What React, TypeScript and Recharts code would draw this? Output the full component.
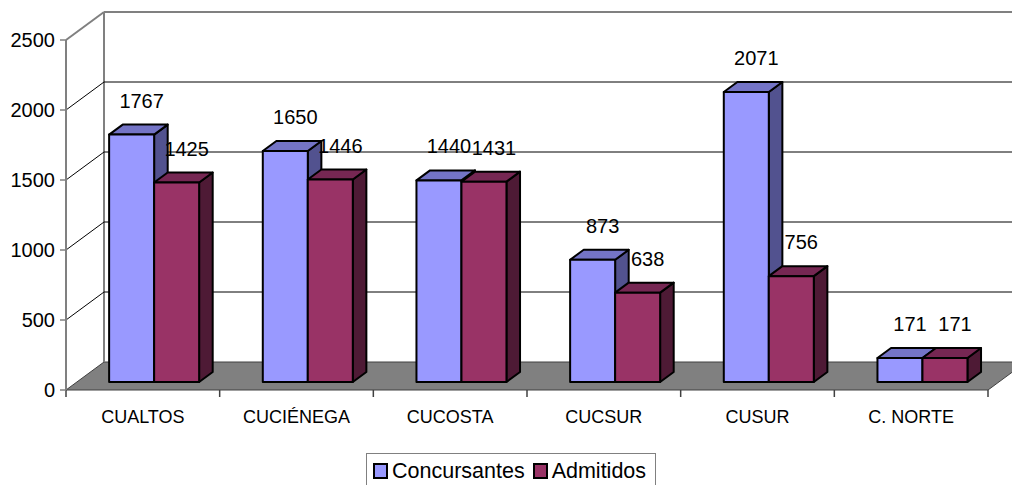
import React from "react";
import {
	BarChart,
	Bar,
	XAxis,
	YAxis,
	ReferenceArea,
	ReferenceLine,
	LabelList,
	Legend,
} from "recharts";

const CATEGORIES = ["CUALTOS", "CUCIÉNEGA", "CUCOSTA", "CUCSUR", "CUSUR", "C. NORTE"];
const CONCURSANTES = [1767, 1650, 1440, 873, 2071, 171];
const ADMITIDOS = [1425, 1446, 1431, 638, 756, 171];
const SERIES_NAMES = ["Concursantes", "Admitidos"];
const Y_TICKS = [0, 500, 1000, 1500, 2000, 2500];
const GRID_VALUES = [500, 1000, 1500, 2000];

const data = CATEGORIES.map((name, i) => ({
	name,
	concursantes: CONCURSANTES[i],
	admitidos: ADMITIDOS[i],
}));

// 3d depth of the floor / back wall, bars sit in the middle
const DEPTH_X = 38;
const DEPTH_Y = -28;
const BAR_FRONT = 8 / 28;
const BAR_BACK = 18 / 28;
const OX = DEPTH_X * BAR_FRONT;
const OY = DEPTH_Y * BAR_FRONT;
const BX = DEPTH_X * (BAR_BACK - BAR_FRONT);
const BY = DEPTH_Y * (BAR_BACK - BAR_FRONT);

const FONT = '"Liberation Sans", Arial, sans-serif';
const WALL = "#808080";

function Box3D(props: any) {
	const { x, y, width, height, face, top, side } = props;
	const x0 = x + OX;
	const y0 = y + OY;
	const x1 = x0 + width;
	const y1 = y0 + height;
	return (
		<g stroke="#000" strokeWidth={2} strokeLinejoin="round">
			<polygon
				points={`${x1},${y0} ${x1 + BX},${y0 + BY} ${x1 + BX},${y1 + BY} ${x1},${y1}`}
				fill={side}
			/>
			<polygon
				points={`${x0},${y0} ${x0 + BX},${y0 + BY} ${x1 + BX},${y0 + BY} ${x1},${y0}`}
				fill={top}
			/>
			<rect x={x0} y={y0} width={width} height={height} fill={face} />
		</g>
	);
}

function WallAndFloor(props: any) {
	const { x, y, width, height } = props;
	const b = y + height;
	const n = CATEGORIES.length;
	return (
		<g>
			<polygon
				points={`${x},${b} ${x + width},${b} ${x + width + DEPTH_X},${b + DEPTH_Y} ${x + DEPTH_X},${b + DEPTH_Y}`}
				fill="#808080"
				stroke="#404040"
				strokeWidth={1}
			/>
			<line x1={x + DEPTH_X} y1={y + DEPTH_Y} x2={x + DEPTH_X} y2={b + DEPTH_Y} stroke={WALL} strokeWidth={2} />
			<line x1={x + DEPTH_X} y1={y + DEPTH_Y} x2={x + width + DEPTH_X + 40} y2={y + DEPTH_Y} stroke={WALL} strokeWidth={2} />
			<line x1={x} y1={y} x2={x + DEPTH_X} y2={y + DEPTH_Y} stroke={WALL} strokeWidth={2} />
			{Array.from({ length: n + 1 }).map((_, i) => (
				<line
					key={i}
					x1={x + (i * width) / n}
					y1={b}
					x2={x + (i * width) / n}
					y2={b + 7}
					stroke="#404040"
					strokeWidth={1.5}
				/>
			))}
		</g>
	);
}

function GridLine(props: any) {
	const { x1, y1, x2 } = props;
	return (
		<g stroke="#000" strokeWidth={1}>
			<line x1={x1} y1={y1} x2={x1 + DEPTH_X} y2={y1 + DEPTH_Y} />
			<line x1={x1 + DEPTH_X} y1={y1 + DEPTH_Y} x2={x2 + DEPTH_X + 40} y2={y1 + DEPTH_Y} />
		</g>
	);
}

function ValueLabel(props: any) {
	const { x, y, width, value } = props;
	return (
		<text
			x={x + width / 2 + OX + 10}
			y={y + OY - 34}
			textAnchor="middle"
			dominantBaseline="central"
			fontSize={20}
			fill="#000"
		>
			{value}
		</text>
	);
}

function LegendBox({ payload }: any) {
	const items = [...(payload || [])].sort(
		(a: any, b: any) => SERIES_NAMES.indexOf(a.value) - SERIES_NAMES.indexOf(b.value)
	);
	return (
		<div
			style={{
				border: "1.5px solid #808080",
				height: 40,
				boxSizing: "border-box",
				display: "flex",
				alignItems: "flex-start",
				paddingTop: 5,
				paddingLeft: 6,
				fontSize: 21.5,
				lineHeight: "24px",
			}}
		>
			{items.map((entry: any) => (
				<div key={entry.value} style={{ display: "flex", alignItems: "center", marginRight: 8 }}>
					<span
						style={{
							display: "inline-block",
							width: 11,
							height: 12,
							background: entry.color,
							border: "2px solid #000",
							marginRight: 4,
						}}
					/>
					<span>{entry.value}</span>
				</div>
			))}
		</div>
	);
}

export default function App() {
	return (
		<div
			style={{
				position: "absolute",
				left: 0,
				top: 0,
				width: 1012,
				height: 485,
				overflow: "hidden",
				fontFamily: FONT,
				background: "#fff",
			}}
		>
			<BarChart
				width={1012}
				height={485}
				data={data}
				margin={{ top: 40, right: 24, left: 0, bottom: 65 }}
				barCategoryGap="21%"
				barGap={0}
			>
				<ReferenceArea
					y1={0}
					y2={2500}
					zIndex={0}
					shape={(p: any) => <WallAndFloor {...p} />}
				/>
				{GRID_VALUES.map((v) => (
					<ReferenceLine
						key={v}
						y={v}
						zIndex={50}
						shape={(p: any) => <GridLine {...p} />}
					/>
				))}
				<XAxis
					dataKey="name"
					axisLine={false}
					tickLine={false}
					tickMargin={14}
					height={30}
					interval={0}
					tick={{ fill: "#000", fontSize: 18 }}
				/>
				<YAxis
					width={66}
					domain={[0, 2500]}
					ticks={Y_TICKS}
					interval={0}
					tickMargin={5}
					axisLine={{ stroke: WALL, strokeWidth: 2 }}
					tickLine={{ stroke: WALL, strokeWidth: 1.5 }}
					tick={{ fill: "#000", fontSize: 20 }}
				/>
				<Legend
					layout="horizontal"
					verticalAlign="middle"
					align="center"
					wrapperStyle={{ left: 366, top: 453, width: 290, height: 40 }}
					content={(p: any) => <LegendBox {...p} />}
				/>
				<Bar
					dataKey="concursantes"
					name="Concursantes"
					fill="#9999FF"
					isAnimationActive={false}
					shape={(p: any) => <Box3D {...p} face="#9999FF" top="#7474C6" side="#52528F" />}
				>
					<LabelList dataKey="concursantes" content={(p: any) => <ValueLabel {...p} />} />
				</Bar>
				<Bar
					dataKey="admitidos"
					name="Admitidos"
					fill="#993366"
					isAnimationActive={false}
					shape={(p: any) => <Box3D {...p} face="#993366" top="#762753" side="#4E1A35" />}
				>
					<LabelList dataKey="admitidos" content={(p: any) => <ValueLabel {...p} />} />
				</Bar>
			</BarChart>
		</div>
	);
}
